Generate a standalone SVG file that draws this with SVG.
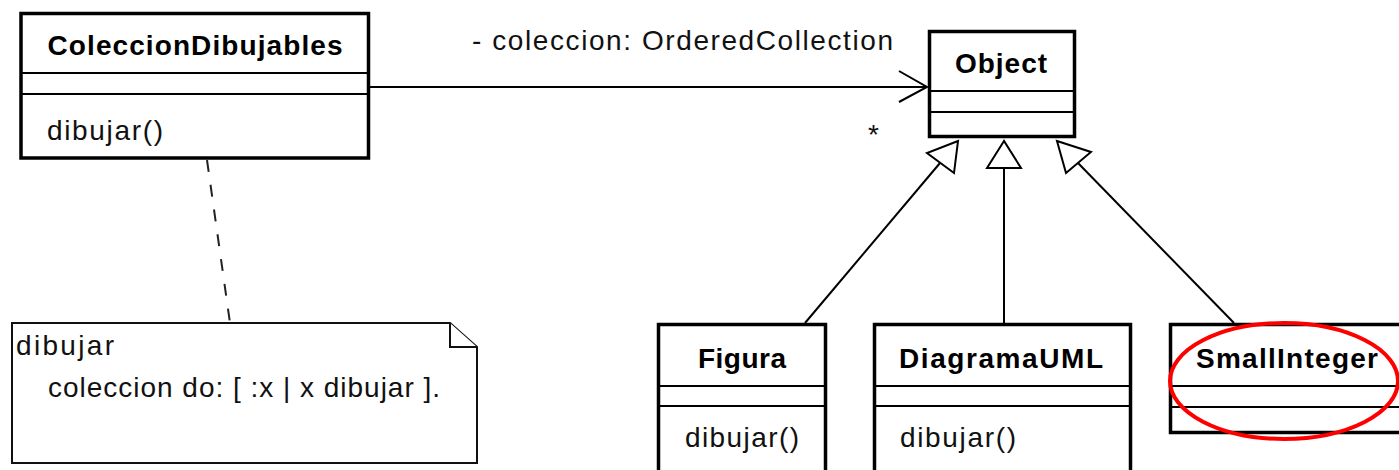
<svg xmlns="http://www.w3.org/2000/svg" width="1399" height="470" viewBox="0 0 1399 470">
<style>
.box{fill:#fff;stroke:#000;stroke-width:3.5}
.sep{stroke:#000;stroke-width:2;fill:none}
.title{font-family:"Liberation Sans",Arial,sans-serif;font-weight:bold;font-size:28px;fill:#000;text-anchor:middle}
.txt{font-family:"Liberation Sans",Arial,sans-serif;font-size:28px;fill:#111}
.conn{stroke:#000;stroke-width:2;fill:none}
.tri{fill:#fff;stroke:#000;stroke-width:2;stroke-linejoin:miter}
.note{fill:#fff;stroke:#111;stroke-width:2}
</style>
<rect width="1399" height="470" fill="#fff"/>
<g id="connectors">
<line class="conn" x1="370" y1="87" x2="927" y2="87"/>
<polyline class="conn" points="899,71 927,87 899,102"/>
<text class="txt" x="472" y="50" textLength="421" lengthAdjust="spacing">- coleccion: OrderedCollection</text>
<text class="txt" x="868" y="144">*</text>
<line x1="207" y1="160" x2="230" y2="323" stroke="#222" stroke-width="2" stroke-dasharray="12,13"/>
<line class="conn" x1="940" y1="163" x2="805" y2="323"/>
<polygon class="tri" points="958,141 927,153 954,173"/>
<line class="conn" x1="1004" y1="168" x2="1004" y2="323"/>
<polygon class="tri" points="1004,141 987,168 1021,168"/>
<line class="conn" x1="1078" y1="163" x2="1234" y2="323"/>
<polygon class="tri" points="1057,141 1091,152 1066,173"/>
</g>
<g id="ColeccionDibujables">
<rect class="box" x="21" y="13.5" width="347.5" height="144.5"/>
<line class="sep" x1="21" y1="73" x2="368.5" y2="73"/>
<line class="sep" x1="21" y1="94" x2="368.5" y2="94"/>
<text class="title" x="195" y="55" textLength="295" lengthAdjust="spacing">ColeccionDibujables</text>
<text class="txt" x="47" y="140" textLength="116" lengthAdjust="spacing">dibujar()</text>
</g>
<g id="Object">
<rect class="box" x="929.5" y="31.5" width="145" height="105"/>
<line class="sep" x1="929.5" y1="91" x2="1074.5" y2="91"/>
<line class="sep" x1="929.5" y1="112" x2="1074.5" y2="112"/>
<text class="title" x="1001" y="73" textLength="92" lengthAdjust="spacing">Object</text>
</g>
<g id="Figura">
<rect class="box" x="658.5" y="324.5" width="167" height="160"/>
<line class="sep" x1="658.5" y1="386" x2="825.5" y2="386"/>
<line class="sep" x1="658.5" y1="406" x2="825.5" y2="406"/>
<text class="title" x="742" y="368" textLength="88" lengthAdjust="spacing">Figura</text>
<text class="txt" x="685" y="447" textLength="114" lengthAdjust="spacing">dibujar()</text>
</g>
<g id="DiagramaUML">
<rect class="box" x="874.5" y="324.5" width="256" height="160"/>
<line class="sep" x1="874.5" y1="386" x2="1130.5" y2="386"/>
<line class="sep" x1="874.5" y1="406" x2="1130.5" y2="406"/>
<text class="title" x="1001" y="368" textLength="204" lengthAdjust="spacing">DiagramaUML</text>
<text class="txt" x="900" y="447" textLength="116" lengthAdjust="spacing">dibujar()</text>
</g>
<g id="SmallInteger">
<rect class="box" x="1170.5" y="324.5" width="250" height="108"/>
<line class="sep" x1="1170.5" y1="386" x2="1420" y2="386"/>
<line class="sep" x1="1170.5" y1="407" x2="1420" y2="407"/>
<text class="title" x="1287" y="368" textLength="182" lengthAdjust="spacing">SmallInteger</text>
<ellipse cx="1284" cy="381" rx="114" ry="58" fill="none" stroke="#f00" stroke-width="4"/>
</g>
<g id="note">
<path class="note" d="M12,323 H450 L477,347 V463 H12 Z"/>
<polyline class="note" fill="none" points="450,323 450,347 477,347"/>
<text class="txt" x="16" y="355" textLength="98" lengthAdjust="spacing">dibujar</text>
<text class="txt" x="48" y="397" textLength="392" lengthAdjust="spacing">coleccion do: [ :x | x dibujar ].</text>
</g>
</svg>
